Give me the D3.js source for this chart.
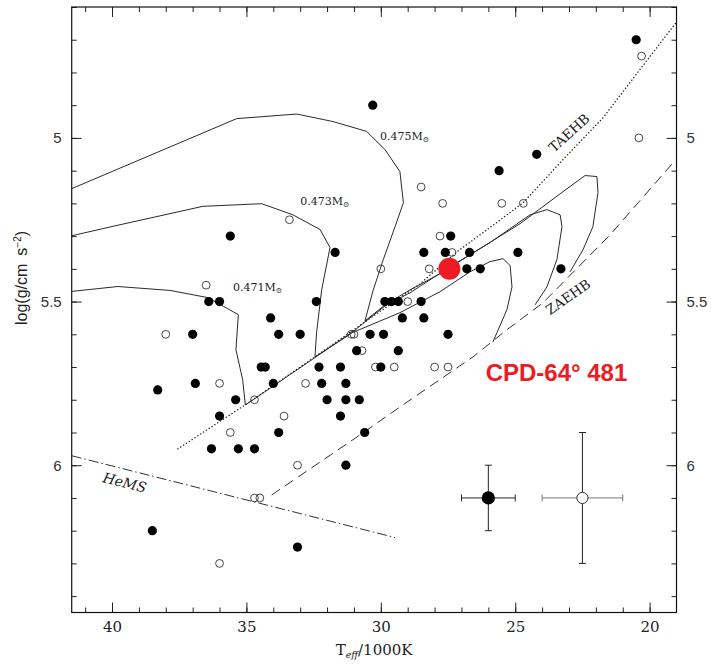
<!DOCTYPE html>
<html>
<head>
<meta charset="utf-8">
<script src="https://cdn.jsdelivr.net/npm/d3@7"></script>
<style>
  html, body { margin: 0; padding: 0; background: #fff; }
  svg { display: block; }
</style>
</head>
<body>
<svg id="chart" width="711" height="664"></svg>
<script>
// ---- data: Teff in kK, log g in cgs ----
const tempTicks = [40, 35, 30, 25, 20];
const gravTicks = [5, 5.5, 6];

// sdB stars with spectroscopic parameters (filled) and less certain fits (open)
const filledStars = [
  [20.5, 4.70], [30.3, 4.90], [24.2, 5.05], [25.6, 5.10], [35.6, 5.30], [27.4, 5.30],
  [31.7, 5.35], [28.4, 5.35], [27.6, 5.35], [26.7, 5.35], [24.9, 5.35],
  [26.8, 5.40], [26.3, 5.40], [23.3, 5.40],
  [36.4, 5.50], [36.0, 5.50], [32.4, 5.50], [29.85, 5.50], [29.6, 5.50], [29.35, 5.50], [28.5, 5.50],
  [34.1, 5.55], [29.2, 5.55], [28.4, 5.55],
  [37.0, 5.60], [33.8, 5.60], [33.0, 5.60], [30.4, 5.60], [29.9, 5.60], [27.5, 5.60],
  [30.9, 5.65], [29.35, 5.65],
  [34.45, 5.70], [34.3, 5.70], [32.3, 5.70], [31.5, 5.70], [30.0, 5.70],
  [38.3, 5.77], [36.9, 5.75], [34.0, 5.75], [32.2, 5.75], [31.3, 5.75],
  [35.4, 5.80], [32.0, 5.80], [31.3, 5.80], [30.8, 5.80],
  [36.0, 5.85], [31.5, 5.85], [33.8, 5.90], [30.6, 5.90],
  [36.3, 5.95], [35.3, 5.95], [34.7, 5.95], [31.3, 6.00],
  [38.5, 6.20], [33.1, 6.25]
];
const openStars = [
  [20.3, 4.75], [20.4, 5.00], [28.5, 5.15], [27.7, 5.20], [25.5, 5.20], [24.7, 5.20],
  [33.4, 5.25], [27.8, 5.30], [27.35, 5.35], [30.0, 5.40], [28.2, 5.40], [36.5, 5.45],
  [29.0, 5.50], [38.0, 5.60], [31.1, 5.60], [31.0, 5.60], [30.7, 5.65],
  [30.2, 5.70], [29.5, 5.70], [28.0, 5.70], [27.5, 5.70],
  [36.0, 5.75], [32.8, 5.75], [34.7, 5.80], [33.6, 5.85], [35.6, 5.90],
  [33.1, 6.00], [34.7, 6.10], [34.5, 6.10], [36.0, 6.30]
];

// CPD-64 481
const targetStar = [27.45, 5.40];

// typical uncertainties for the two samples
const errorT = [26.0, 22.5];
const errorG = [6.1, 6.1];
const errorDT = [1.0, 1.5];
const errorDG = [0.1, 0.2];
const errorFilled = [true, false];

// evolutionary tracks (late hot flasher models)
const track0471 = [
  [41.5, 5.469], [39.78, 5.454], [37.84, 5.466], [36.43, 5.488], [35.30, 5.540], [35.39, 5.647],
  [35.14, 5.739], [35.04, 5.816], [32.52, 5.675], [31.15, 5.598], [29.29, 5.534], [27.80, 5.470],
  [26.68, 5.409], [25.94, 5.378], [25.45, 5.369], [25.19, 5.390], [25.12, 5.455], [25.31, 5.525],
  [25.68, 5.595], [25.83, 5.623]
];
const track0473 = [
  [41.5, 5.299], [39.96, 5.270], [36.62, 5.209], [34.43, 5.201], [33.27, 5.235], [32.26, 5.280],
  [31.89, 5.335], [32.20, 5.464], [32.39, 5.595], [32.45, 5.669], [31.15, 5.600], [30.59, 5.562],
  [29.84, 5.513], [28.91, 5.473], [27.43, 5.394], [25.94, 5.320], [24.45, 5.235], [23.82, 5.219],
  [23.33, 5.235], [23.26, 5.271], [23.45, 5.372], [23.82, 5.455], [24.26, 5.510]
];
const track0475 = [
  [41.5, 5.155], [35.36, 4.941], [33.13, 4.927], [31.78, 4.950], [30.53, 4.980], [29.84, 5.036],
  [29.29, 5.103], [29.16, 5.198], [29.47, 5.271], [29.91, 5.372], [30.28, 5.464], [30.59, 5.559],
  [29.84, 5.510], [28.91, 5.464], [27.80, 5.415], [26.68, 5.357], [24.82, 5.262], [23.22, 5.164],
  [22.40, 5.115], [21.96, 5.118], [21.92, 5.167], [22.11, 5.271], [22.48, 5.342], [22.96, 5.409]
];
const trackMasses = ["0.471", "0.473", "0.475"];
const trackLabelT = [35.5, 33.0, 30.03];
const trackLabelG = [5.467, 5.204, 5.005];

// terminal-age and zero-age EHB, helium main sequence
const taehb = [
  [37.55, 5.950], [35.05, 5.816], [32.45, 5.669], [30.59, 5.562], [28.54, 5.446], [27.17, 5.348],
  [25.94, 5.274], [24.71, 5.198], [23.22, 5.066], [21.73, 4.938], [20.36, 4.791], [18.98, 4.644]
];
const zaehb = [
  [34.06, 6.091], [30.66, 5.901], [29.29, 5.822], [26.57, 5.669], [25.31, 5.586], [23.97, 5.504],
  [21.47, 5.296], [19.02, 5.066]
];
const hems = [[41.5, 5.971], [29.47, 6.221]];

// ---- drawing ----
const svg = d3.select("#chart");
svg.append("rect").attr("width", 711).attr("height", 664).attr("fill", "#fff");

const x = d3.scaleLinear().domain([41.5, 19]).range([71.7, 676.5]);
const y = d3.scaleLinear().domain([4.6, 6.45]).range([7, 612.5]);
const [x0, x1] = x.range();
const [y0, y1] = y.range();

svg.append("clipPath").attr("id", "plotclip")
  .append("rect").attr("x", x0).attr("y", y0).attr("width", x1 - x0).attr("height", y1 - y0);

const plot = svg.append("g").attr("clip-path", "url(#plotclip)");
const line = d3.line().x(d => x(d[0])).y(d => y(d[1]));

// tracks
[track0471, track0473, track0475].forEach(tr => {
  plot.append("path").attr("d", line(tr)).attr("fill", "none")
    .attr("stroke", "#2a2a2a").attr("stroke-width", 1).attr("stroke-linejoin", "round");
});
plot.append("path").attr("d", line(taehb)).attr("fill", "none")
  .attr("stroke", "#222").attr("stroke-width", 1.4)
  .attr("stroke-dasharray", "0.1,3.3").attr("stroke-linecap", "round");
plot.append("path").attr("d", line(zaehb)).attr("fill", "none")
  .attr("stroke", "#333").attr("stroke-width", 1).attr("stroke-dasharray", "10,6");
plot.append("path").attr("d", line(hems)).attr("fill", "none")
  .attr("stroke", "#333").attr("stroke-width", 1).attr("stroke-dasharray", "10,3,1.5,3");

// stars
plot.selectAll("circle.open").data(openStars).join("circle")
  .attr("class", "open").attr("cx", d => x(d[0])).attr("cy", d => y(d[1])).attr("r", 3.9)
  .attr("fill", "none").attr("stroke", "#333").attr("stroke-width", 0.9);
plot.selectAll("circle.filled").data(filledStars).join("circle")
  .attr("class", "filled").attr("cx", d => x(d[0])).attr("cy", d => y(d[1])).attr("r", 4.6)
  .attr("fill", "#000");

// error bar samples
errorT.forEach((t, i) => {
  const g = plot.append("g");
  const cx = x(t), cy = y(errorG[i]);
  const xl = x(t + errorDT[i]), xr = x(t - errorDT[i]);
  const yt = y(errorG[i] - errorDG[i]), yb = y(errorG[i] + errorDG[i]);
  const hcol = errorFilled[i] ? "#222" : "#777";
  g.append("line").attr("x1", xl).attr("x2", xr).attr("y1", cy).attr("y2", cy).attr("stroke", hcol).attr("stroke-width", 1);
  g.append("line").attr("x1", xl).attr("x2", xl).attr("y1", cy - 3.5).attr("y2", cy + 3.5).attr("stroke", hcol);
  g.append("line").attr("x1", xr).attr("x2", xr).attr("y1", cy - 3.5).attr("y2", cy + 3.5).attr("stroke", hcol);
  g.append("line").attr("x1", cx).attr("x2", cx).attr("y1", yt).attr("y2", yb).attr("stroke", "#222").attr("stroke-width", 1);
  g.append("line").attr("x1", cx - 3.5).attr("x2", cx + 3.5).attr("y1", yt).attr("y2", yt).attr("stroke", "#222");
  g.append("line").attr("x1", cx - 3.5).attr("x2", cx + 3.5).attr("y1", yb).attr("y2", yb).attr("stroke", "#222");
  if (errorFilled[i]) {
    g.append("circle").attr("cx", cx).attr("cy", cy).attr("r", 6.6).attr("fill", "#000");
  } else {
    g.append("circle").attr("cx", cx).attr("cy", cy).attr("r", 5.6).attr("fill", "#fff")
      .attr("stroke", "#333").attr("stroke-width", 1);
  }
});

// highlighted star
plot.append("circle").attr("cx", x(targetStar[0])).attr("cy", y(targetStar[1])).attr("r", 11)
  .attr("fill", "#ec1c24");

// ---- annotations ----
const serif = "'DejaVu Serif', serif";
trackMasses.forEach((m, i) => {
  const t = svg.append("text").attr("x", x(trackLabelT[i])).attr("y", y(trackLabelG[i]))
    .attr("font-family", serif).attr("font-size", 11).attr("fill", "#222");
  t.append("tspan").text(m + "M");
  t.append("tspan").attr("font-size", 7.5).attr("dy", 2.5).text("\u2299");
});

svg.append("text").attr("transform", `translate(${x(23.0)},${y(4.984)}) rotate(-42)`)
  .attr("text-anchor", "middle").attr("dominant-baseline", "central")
  .attr("font-family", serif).attr("font-size", 13.5).attr("fill", "#222").text("TAEHB");
svg.append("text").attr("transform", `translate(${x(23.04)},${y(5.485)}) rotate(-35)`)
  .attr("text-anchor", "middle").attr("dominant-baseline", "central")
  .attr("font-family", serif).attr("font-size", 13.5).attr("fill", "#222").text("ZAEHB");
svg.append("text").attr("transform", `translate(${x(39.53)},${y(6.053)}) rotate(14)`)
  .attr("text-anchor", "middle").attr("dominant-baseline", "central")
  .attr("font-family", serif).attr("font-style", "italic").attr("font-size", 14).attr("fill", "#222").text("HeMS");

svg.append("text").attr("x", x(26.1)).attr("y", y(5.744))
  .attr("font-family", "'Liberation Sans', Arial, sans-serif").attr("font-weight", "bold")
  .attr("font-size", 24).attr("fill", "#ec1c24").text("CPD-64° 481");

// ---- axes ----
function styleAxis(g) {
  g.select(".domain").remove();
  g.selectAll(".tick line").attr("stroke", "#222").attr("stroke-width", 1);
}
const minorT = d3.range(20, 42);
const minorG = d3.range(46, 65).map(v => v / 10);

svg.append("g").attr("transform", `translate(0,${y1})`)
  .call(d3.axisBottom(x).tickValues(minorT).tickSize(-5).tickFormat(""))
  .call(styleAxis);
svg.append("g").attr("transform", `translate(0,${y0})`)
  .call(d3.axisTop(x).tickValues(minorT).tickSize(-5).tickFormat(""))
  .call(styleAxis);
svg.append("g").attr("transform", `translate(${x0},0)`)
  .call(d3.axisLeft(y).tickValues(minorG).tickSize(-5).tickFormat(""))
  .call(styleAxis);
svg.append("g").attr("transform", `translate(${x1},0)`)
  .call(d3.axisRight(y).tickValues(minorG).tickSize(-5).tickFormat(""))
  .call(styleAxis);

const bottom = svg.append("g").attr("transform", `translate(0,${y1})`)
  .call(d3.axisBottom(x).tickValues(tempTicks).tickSize(-10).tickPadding(9).tickFormat(d3.format("d")))
  .call(styleAxis);
bottom.selectAll("text").attr("font-family", serif).attr("font-size", 15).attr("fill", "#222");
svg.append("g").attr("transform", `translate(0,${y0})`)
  .call(d3.axisTop(x).tickValues(tempTicks).tickSize(-10).tickFormat(""))
  .call(styleAxis);

const sans = "'Liberation Sans', Arial, sans-serif";
const left = svg.append("g").attr("transform", `translate(${x0},0)`)
  .call(d3.axisLeft(y).tickValues(gravTicks).tickSize(-10).tickPadding(10).tickFormat(d => String(d)))
  .call(styleAxis);
left.selectAll("text").attr("font-family", sans).attr("font-size", 15).attr("fill", "#333");
const right = svg.append("g").attr("transform", `translate(${x1},0)`)
  .call(d3.axisRight(y).tickValues(gravTicks).tickSize(-10).tickPadding(10).tickFormat(d => String(d)))
  .call(styleAxis);
right.selectAll("text").attr("font-family", sans).attr("font-size", 15).attr("fill", "#333");

// frame
svg.append("rect").attr("x", x0).attr("y", y0).attr("width", x1 - x0).attr("height", y1 - y0)
  .attr("fill", "none").attr("stroke", "#111").attr("stroke-width", 1.2);

// axis titles
const xt = svg.append("text").attr("x", (x0 + x1) / 2).attr("y", 655).attr("text-anchor", "middle")
  .attr("font-family", serif).attr("font-size", 15).attr("fill", "#222");
xt.append("tspan").text("T");
xt.append("tspan").attr("font-size", 9.5).attr("dy", 3).attr("font-style", "italic").text("eff");
xt.append("tspan").attr("dy", -3).text("/1000K");

const yt = svg.append("text").attr("transform", `translate(27,${278}) rotate(-90)`)
  .attr("text-anchor", "middle").attr("font-family", sans).attr("font-size", 16).attr("fill", "#222");
yt.append("tspan").text("log(g/cm\u2002s");
yt.append("tspan").attr("font-size", 10).attr("dy", -6).text("\u22122");
yt.append("tspan").attr("dy", 6).text(")");
</script>
</body>
</html>
